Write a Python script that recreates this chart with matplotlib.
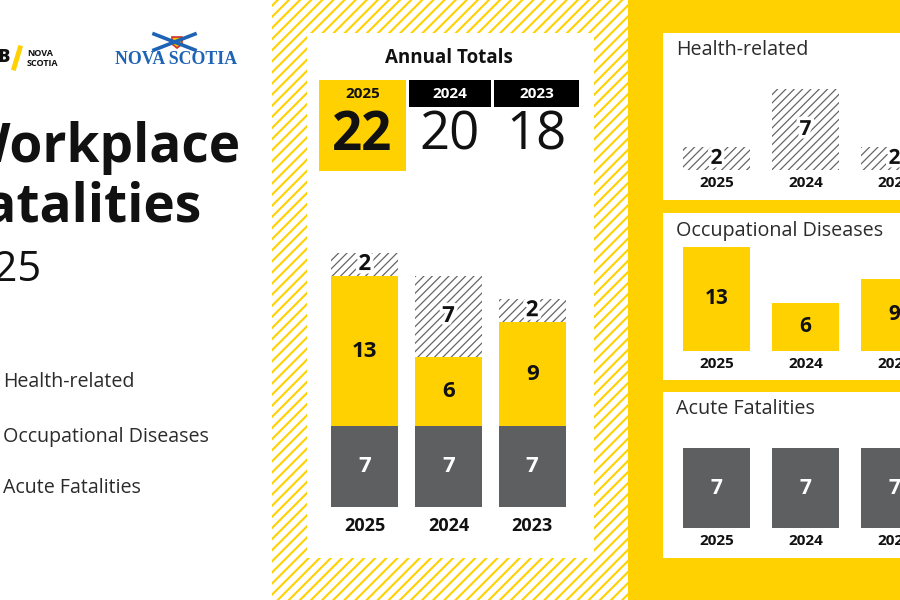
import matplotlib.pyplot as plt
from matplotlib.patches import Rectangle, Polygon
import matplotlib.patheffects as pe

plt.rcParams['font.family'] = ['Open Sans', 'DejaVu Sans']
plt.rcParams['hatch.linewidth'] = 0.9

years = ['2025', '2024', '2023']
acute = [7, 7, 7]
occupational = [13, 6, 9]
health = [2, 7, 2]
categories = ['Health-related', 'Occupational Diseases', 'Acute Fatalities']
totals = [a + o + h for a, o, h in zip(acute, occupational, health)]

YELLOW = '#ffd100'
GRAY = '#5e5f61'
HATCH_GRAY = '#666666'
TEXT = '#2b2b2b'

W, H = 900, 600
fig = plt.figure(figsize=(9, 6), dpi=100)


def fx(x):
    return x / W


def fy(y):
    return 1 - y / H


def box(x0, y0, x1, y1, z=-5, **kw):
    r = Rectangle((fx(x0), fy(y1)), (x1 - x0) / W, (y1 - y0) / H,
                  transform=fig.transFigure, zorder=z, **kw)
    fig.patches.append(r)
    return r


def text(x, y, s, **kw):
    kw.setdefault('va', 'center')
    kw.setdefault('color', TEXT)
    fig.text(fx(x), fy(y), s, **kw)


def bar_axes(x0, y0, x1, y1):
    ax = fig.add_axes([fx(x0), fy(y1), (x1 - x0) / W, (y1 - y0) / H])
    ax.patch.set_visible(False)
    for s in ax.spines.values():
        s.set_visible(False)
    ax.set_yticks([])
    ax.set_xlim(-0.5, 2.5)
    return ax


# background blocks
with plt.rc_context({'hatch.linewidth': 1.5}):
    bg = box(272, 0, 628, 600, z=-9, facecolor='white', edgecolor=YELLOW, hatch='///', linewidth=0)
if hasattr(bg, 'set_hatch_linewidth'):
    bg.set_hatch_linewidth(1.5)
box(628, 0, 900, 600, z=-9, facecolor=YELLOW, linewidth=0)
box(307, 33, 594, 558, z=-8, facecolor='white', linewidth=0)
for y0, y1 in [(33, 200), (213, 380), (392, 558)]:
    box(663, y0, 910, y1, z=-8, facecolor='white', linewidth=0)

# logos (left edge is cropped)
text(11, 58, 'WCB', ha='right', fontsize=13, fontweight='heavy', color='#111111')
fig.add_artist(plt.Line2D([fx(20), fx(14)], [fy(48), fy(68)], color=YELLOW, lw=3.5))
text(27, 53, 'NOVA', fontsize=6.5, fontweight='bold', color='#111111')
text(27, 63, 'SCOTIA', fontsize=6.5, fontweight='bold', color='#111111')
NS_BLUE = '#1f63b5'
text(176, 59, 'NOVA SCOTIA', ha='center', fontsize=12.8, fontweight='bold',
     family='Liberation Serif', color=NS_BLUE)
fig.add_artist(plt.Line2D([fx(154), fx(195)], [fy(34), fy(50)], color=NS_BLUE, lw=2.6))
fig.add_artist(plt.Line2D([fx(154), fx(195)], [fy(50), fy(34)], color=NS_BLUE, lw=2.6))
fig.add_artist(Polygon([(fx(172), fy(37)), (fx(182), fy(37)), (fx(182), fy(44)),
                        (fx(177), fy(48)), (fx(172), fy(44))],
                       closed=True, transform=fig.transFigure, facecolor='#f3c300',
                       edgecolor='#d0302b', lw=1.2))

# title
text(240, 162, 'Workplace', ha='right', va='baseline', fontsize=38.3, fontweight='bold', color='#111111')
text(201, 222, 'Fatalities', ha='right', va='baseline', fontsize=38.3, fontweight='bold', color='#111111')
text(41, 281, '2025', ha='right', va='baseline', fontsize=30, color='#111111')

# legend labels (swatches cropped off)
for y, c in zip([382, 437, 488], categories):
    text(3, y, c, fontsize=14.1)

# annual totals
text(449, 58, 'Annual Totals', ha='center', fontsize=13.5, fontweight='bold', color='#111111')
box(319, 80, 406, 171, z=-4, facecolor=YELLOW, linewidth=0)
box(409, 80, 491, 107, z=-4, facecolor='black', linewidth=0)
box(494, 80, 579, 107, z=-4, facecolor='black', linewidth=0)
for i, (cx, yr, tot) in enumerate(zip([362.5, 450, 536.5], years, totals)):
    text(cx, 94, yr, ha='center', fontsize=11, fontweight='bold',
         color='#111111' if i == 0 else 'white')
    text(cx, 136, str(tot), ha='center', fontsize=38,
         fontweight='bold' if i == 0 else 'normal', color='#111111')

x = list(range(len(years)))
halo = [pe.withStroke(linewidth=5, foreground='white')]

# stacked chart
ax = bar_axes(323, 253, 574, 507)
ax.set_ylim(0, max(totals))
stack_y = [a + o for a, o in zip(acute, occupational)]
ax.bar(x, acute, 0.8, color=GRAY, linewidth=0)
ax.bar(x, occupational, 0.8, bottom=acute, color=YELLOW, linewidth=0)
ax.bar(x, health, 0.8, bottom=stack_y, color='white', edgecolor=HATCH_GRAY,
       hatch='////', linewidth=0)
for i in x:
    ax.text(i, acute[i] / 2, str(acute[i]), ha='center', va='center',
            fontsize=16, fontweight='bold', color='white')
    ax.text(i, acute[i] + occupational[i] / 2, str(occupational[i]), ha='center',
            va='center', fontsize=16, fontweight='bold', color='#111111')
    ax.text(i, stack_y[i] + health[i] / 2, str(health[i]), ha='center', va='center',
            fontsize=16, fontweight='bold', color='#111111', path_effects=halo)
ax.set_xticks(x, years, fontsize=13, fontweight='bold', color='#111111')
ax.tick_params(axis='x', length=0, pad=7)

# right-hand cards (third column is cut by the right edge)
cards = [
    ('Health-related', health, 50, 89, 170, dict(color='white', edgecolor=HATCH_GRAY, hatch='////'), '#111111'),
    ('Occupational Diseases', occupational, 231, 247, 351, dict(color=YELLOW), '#111111'),
    ('Acute Fatalities', acute, 409, 448, 528, dict(color=GRAY), 'white'),
]
for title, vals, ty, top, bottom, style, vcol in cards:
    text(676, ty, title, fontsize=14.2)
    cax = bar_axes(672, top, 939, bottom)
    cax.set_ylim(0, max(vals))
    cax.bar(x, vals, 0.75, linewidth=0, **style)
    for i in x:
        cax.text(i, vals[i] / 2, str(vals[i]), ha='center', va='center', fontsize=15,
                 fontweight='bold', color=vcol,
                 path_effects=halo if style.get('hatch') else None)
    cax.set_xticks(x, years, fontsize=11, fontweight='bold', color='#111111')
    cax.tick_params(axis='x', length=0, pad=4)

fig.savefig('out.png', dpi=100)
